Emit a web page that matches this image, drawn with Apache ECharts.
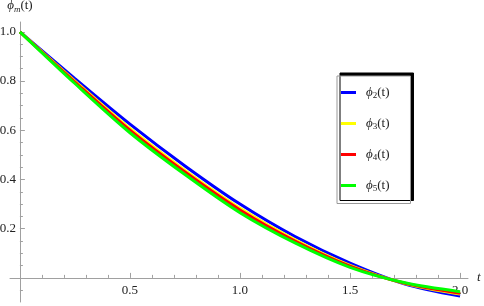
<!DOCTYPE html>
<html>
<head>
<meta charset="utf-8">
<script src="https://cdn.jsdelivr.net/npm/echarts@6/dist/echarts.min.js"></script>
<style>
  html, body { margin: 0; padding: 0; background: #fff; }
  #chart { width: 484px; height: 306px; }
</style>
</head>
<body>
<div id="chart"></div>
<script>
// values
const tValues = [0, 0.25, 0.5, 0.75, 1.0, 1.25, 1.5, 1.75, 2.0];
const phi2 = [1.0, 0.81, 0.625, 0.455, 0.300, 0.168, 0.060, -0.025, -0.074];
const phi3 = [1.0, 0.80, 0.607, 0.437, 0.283, 0.155, 0.051, -0.023, -0.066];
const phi4 = [1.0, 0.796, 0.600, 0.430, 0.276, 0.150, 0.048, -0.022, -0.062];
const phi5 = [1.0, 0.79, 0.590, 0.420, 0.265, 0.142, 0.043, -0.020, -0.056];
const seriesNames = ['ϕ2(t)', 'ϕ3(t)', 'ϕ4(t)', 'ϕ5(t)'];
const seriesSubs = ['2', '3', '4', '5'];
const seriesColors = ['#0000ff', '#ffff00', '#ff0000', '#00ff00'];

const xMajorTicks = [0.5, 1.0, 1.5, 2.0];
const xMinorTicks = [0.1, 0.2, 0.3, 0.4, 0.6, 0.7, 0.8, 0.9, 1.1, 1.2, 1.3, 1.4, 1.6, 1.7, 1.8, 1.9];
const yMajorTicks = [0.2, 0.4, 0.6, 0.8, 1.0];
const yMinorTicks = [-0.05, 0.05, 0.1, 0.15, 0.25, 0.3, 0.35, 0.45, 0.5, 0.55, 0.65, 0.7, 0.75, 0.85, 0.9, 0.95];

const allSeries = [phi2, phi3, phi4, phi5];
const axisGray = '#a0a0a0';
const serif = '"Liberation Serif", "DejaVu Serif", serif';

const chart = echarts.init(document.getElementById('chart'));

function baseAxis(min, max) {
  return {
    type: 'value',
    min: min,
    max: max,
    splitLine: { show: false },
    axisLine: { show: true, onZero: true, onZeroAxisIndex: 0, lineStyle: { color: axisGray, width: 1 } }
  };
}

// labels stay at the grid edge, so margins pull them back next to the zero lines
const xMain = Object.assign(baseAxis(-0.045, 2.036), {
  position: 'bottom',
  axisTick: { show: true, inside: true, length: 5, customValues: xMajorTicks, lineStyle: { color: axisGray } },
  axisLabel: {
    show: true, margin: -18, customValues: xMajorTicks,
    formatter: v => v.toFixed(1),
    fontFamily: serif, fontSize: 13, color: '#222'
  },
  name: 't',
  nameLocation: 'end',
  nameGap: 9,
  nameTextStyle: { fontFamily: serif, fontStyle: 'italic', fontSize: 13, color: '#222', padding: [0, 0, 10, 0] }
});
const xMinor = Object.assign(baseAxis(-0.045, 2.036), {
  position: 'bottom',
  axisTick: { show: true, inside: true, length: 3, customValues: xMinorTicks, lineStyle: { color: axisGray } },
  axisLabel: { show: false }
});
xMinor.axisLine.show = false;

const yMain = Object.assign(baseAxis(-0.098, 1.04), {
  position: 'left',
  axisTick: { show: true, inside: true, length: 5, customValues: yMajorTicks, lineStyle: { color: axisGray } },
  axisLabel: {
    show: true, margin: -6, customValues: yMajorTicks,
    formatter: v => v.toFixed(1),
    fontFamily: serif, fontSize: 13, color: '#222'
  },
  name: '{a|ϕ}{s|m}{b|(t)}',
  nameLocation: 'end',
  nameGap: 8,
  nameTextStyle: {
    align: 'center',
    rich: {
      a: { fontFamily: serif, fontStyle: 'italic', fontSize: 13, color: '#222', lineHeight: 16 },
      s: { fontFamily: serif, fontStyle: 'italic', fontSize: 9, color: '#222', verticalAlign: 'bottom', lineHeight: 14 },
      b: { fontFamily: serif, fontSize: 13, color: '#222', lineHeight: 16 }
    }
  }
});
const yMinor = Object.assign(baseAxis(-0.098, 1.04), {
  position: 'left',
  axisTick: { show: true, inside: true, length: 3, customValues: yMinorTicks, lineStyle: { color: axisGray } },
  axisLabel: { show: false }
});
yMinor.axisLine.show = false;

const legendRich = {
  a: { fontFamily: serif, fontStyle: 'italic', fontSize: 13, color: '#222', lineHeight: 16 },
  s: { fontFamily: serif, fontSize: 9, color: '#222', verticalAlign: 'bottom', lineHeight: 13 },
  b: { fontFamily: serif, fontSize: 13, color: '#222', lineHeight: 16 }
};

chart.setOption({
  animation: false,
  grid: { left: 10, right: 16, top: 22, bottom: 4, outerBoundsMode: 'none' },
  xAxis: [xMain, xMinor],
  yAxis: [yMain, yMinor],
  legend: {
    orient: 'vertical',
    left: 337,
    top: 76,
    padding: [10, 21, 10, 4],
    itemWidth: 15,
    itemHeight: 14,
    itemGap: 16.5,
    icon: 'path://M0,0 L15,0 L15,3 L0,3 Z',
    symbolKeepAspect: true,
    backgroundColor: '#fff',
    borderColor: '#999',
    borderWidth: 1,
    shadowColor: '#000',
    shadowBlur: 0,
    shadowOffsetX: 3,
    shadowOffsetY: -3,
    data: seriesNames,
    formatter: name => '{a|ϕ}{s|' + seriesSubs[seriesNames.indexOf(name)] + '}{b|(t)}',
    textStyle: { padding: [0, 0, 0, 5], rich: legendRich }
  },
  series: allSeries.map((vals, i) => ({
    name: seriesNames[i],
    type: 'line',
    xAxisIndex: 0,
    yAxisIndex: 0,
    smooth: 0.3,
    symbol: 'none',
    lineStyle: { color: seriesColors[i], width: 3 },
    itemStyle: { color: seriesColors[i] },
    data: tValues.map((t, k) => [t, vals[k]])
  }))
});
</script>
</body>
</html>
